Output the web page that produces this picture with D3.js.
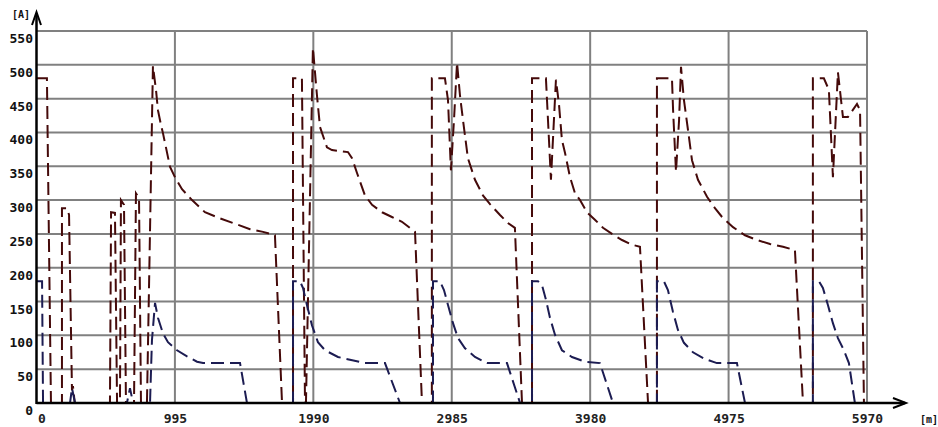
<!DOCTYPE html>
<html>
<head>
<meta charset="utf-8">
<script src="https://cdn.jsdelivr.net/npm/d3@7/dist/d3.min.js"></script>
<style>
  html, body { margin: 0; padding: 0; background: #ffffff; }
  svg { display: block; }
</style>
</head>
<body>
<svg id="chart" width="938" height="427"></svg>
<script>
// ---- data (distance [m], current [A]) ----
const xTickValues = [0, 995, 1990, 2985, 3980, 4975, 5970];
const yTickValues = [0, 50, 100, 150, 200, 250, 300, 350, 400, 450, 500, 550];
const xUnitLabel = "[m]";
const yUnitLabel = "[A]";

const redSeries = [
  [0,480],[75,480],[104,0],[183,0],[183,288],[219,288],[234,278],[255,19],[262,25],[275,0],
  [514,0],[528,0],[536,282],[564,281],[579,0],[600,0],[607,300],[629,293],[643,0],[701,0],[715,310],[737,303],[751,0],[794,0],[837,498],
  [859,463],[873,433],[895,411],[909,399],[960,349],[995,334],[1046,316],[1118,300],[1211,282],[1319,273],[1427,265],[1535,257],[1628,253],[1714,248],[1765,0],
  [1844,0],[1844,480],[1908,480],[1930,0],[1937,0],[1987,525],
  [2016,455],[2038,408],[2088,378],[2124,374],[2239,371],[2268,362],[2304,340],[2361,307],[2412,293],[2484,282],[2555,275],[2627,268],[2721,253],[2771,0],
  [2842,0],[2842,480],[2936,480],[2958,448],[2979,344],[3001,418],[3023,503],
  [3044,455],[3066,418],[3101,362],[3152,330],[3209,307],[3260,294],[3332,278],[3389,266],[3439,259],[3490,0],
  [3562,0],[3562,480],[3662,480],[3698,330],[3734,478],[3756,441],[3777,389],[3799,370],[3835,334],[3871,310],[3907,300],[3957,282],[4014,271],[4072,259],[4137,250],[4209,241],[4281,234],[4338,231],[4396,0],
  [4460,0],[4460,480],[4568,480],[4576,433],[4597,342],[4619,418],[4633,497],[4654,448],[4683,404],[4712,359],[4755,330],[4820,305],[4877,288],[4928,275],[5007,260],[5093,248],[5179,241],[5273,235],[5366,231],[5452,226],[5510,0],
  [5581,0],[5581,480],[5660,480],[5696,463],[5725,334],[5761,489],[5797,423],[5833,423],[5898,442],[5920,433],[5948,0]
];

const blueSeries = [
  [0,180],[40,180],[47,0],[241,0],[255,22],[277,0],[650,0],[672,22],[694,0],[816,0],[830,93],[852,148],[873,126],[909,103],[945,90],[1010,78],[1082,69],[1154,61],[1197,59],[1463,59],[1513,0],
  [1844,0],[1844,180],[1894,180],[1916,170],[1944,145],[1980,115],[2023,90],[2074,78],[2167,68],[2253,64],[2361,59],[2505,59],[2613,0],
  [2850,0],[2850,180],[2900,180],[2929,167],[2958,145],[2994,118],[3030,96],[3080,81],[3152,68],[3238,59],[3382,59],[3476,0],
  [3562,0],[3562,180],[3605,180],[3634,174],[3663,152],[3691,126],[3727,101],[3777,78],[3849,68],[3942,61],[4050,59],[4144,0],
  [4460,0],[4460,180],[4510,180],[4539,167],[4575,135],[4611,108],[4654,89],[4719,75],[4805,65],[4891,59],[5035,59],[5093,0],
  [5581,0],[5581,180],[5624,180],[5653,170],[5689,145],[5725,118],[5761,96],[5804,78],[5840,59],[5883,0]
];

// ---- layout ----
const svg = d3.select("#chart");
const x = d3.scaleLinear().domain([0, 5970]).range([36.5, 867]);
const y = d3.scaleLinear().domain([0, 550]).range([403, 31]);
const FONT = "'DejaVu Sans Mono', 'Liberation Mono', monospace";

// grid
const grid = svg.append("g").attr("stroke", "#808080").attr("stroke-width", 2);
grid.selectAll("line.h").data(yTickValues.filter(v => v > 0)).join("line")
  .attr("x1", x(0)).attr("x2", x(5970))
  .attr("y1", d => y(d)).attr("y2", d => y(d));
grid.selectAll("line.v").data(xTickValues.filter(v => v > 0)).join("line")
  .attr("x1", d => x(d)).attr("x2", d => x(d))
  .attr("y1", y(0)).attr("y2", y(550));

// series
const line = d3.line().x(d => x(d[0])).y(d => y(d[1]));
svg.append("path").datum(redSeries)
  .attr("d", line).attr("fill", "none")
  .attr("stroke", "#450a0a").attr("stroke-width", 2)
  .attr("stroke-dasharray", "13,6");
svg.append("path").datum(blueSeries)
  .attr("d", line).attr("fill", "none")
  .attr("stroke", "#1c1c52").attr("stroke-width", 2)
  .attr("stroke-dasharray", "13,6");

// axes (labels via d3 axes)
const yAxis = svg.append("g").attr("transform", `translate(${x(0)},0)`)
  .call(d3.axisLeft(y).tickValues(yTickValues).tickSize(0).tickPadding(3.5));
yAxis.select(".domain").remove();
yAxis.selectAll("text").attr("dy", null).attr("y", 11.5)
  .attr("font-family", FONT).attr("font-size", 13).attr("font-weight", "bold").attr("fill", "#111");

const xAxis = svg.append("g").attr("transform", `translate(0,${y(0)})`)
  .call(d3.axisBottom(x).tickValues(xTickValues).tickSize(0).tickFormat(d3.format("d")));
xAxis.select(".domain").remove();
xAxis.selectAll("text").attr("dy", null).attr("y", 20)
  .attr("font-family", FONT).attr("font-size", 13).attr("font-weight", "bold").attr("fill", "#222")
  .attr("dx", d => d === 0 ? 5 : 0);

// axis lines with arrows
svg.append("line").attr("x1", x(0)).attr("x2", 905).attr("y1", y(0)).attr("y2", y(0))
  .attr("stroke", "#000").attr("stroke-width", 2.5);
svg.append("line").attr("x1", x(0)).attr("x2", x(0)).attr("y1", y(0) + 1).attr("y2", 13)
  .attr("stroke", "#000").attr("stroke-width", 2.5);
svg.append("path").attr("d", `M${x(0) - 4.5},25 L${x(0)},12 L${x(0) + 4.5},25`)
  .attr("fill", "none").attr("stroke", "#000").attr("stroke-width", 2);
svg.append("path").attr("d", `M893,${y(0) - 5} L906,${y(0)} L893,${y(0) + 5}`)
  .attr("fill", "none").attr("stroke", "#000").attr("stroke-width", 2);

// unit labels
svg.append("text").attr("x", 12).attr("y", 18).text(yUnitLabel)
  .attr("font-family", FONT).attr("font-size", 10).attr("font-weight", "bold").attr("fill", "#111");
svg.append("text").attr("x", 920).attr("y", 423).text(xUnitLabel)
  .attr("font-family", FONT).attr("font-size", 10).attr("font-weight", "bold").attr("fill", "#111");
</script>
</body>
</html>
